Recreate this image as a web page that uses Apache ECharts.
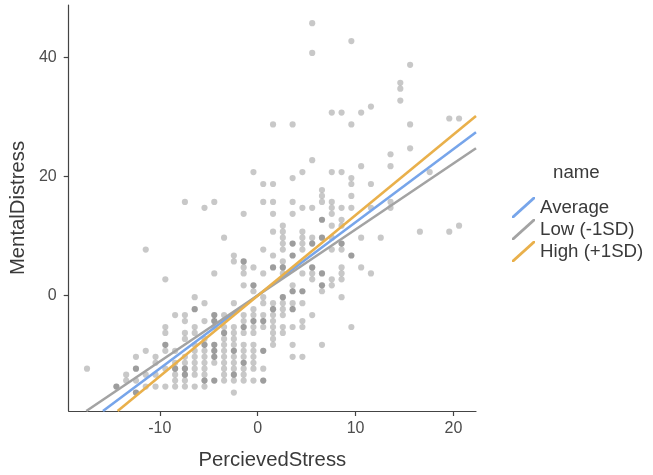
<!DOCTYPE html>
<html>
<head>
<meta charset="utf-8">
<script src="https://cdn.jsdelivr.net/npm/echarts@6/dist/echarts.min.js"></script>
<style>html,body{margin:0;padding:0;background:#fff}#c{width:653px;height:475px}</style>
</head>
<body>
<div id="c"></div>
<script>
// PercievedStress column values (x) and the MentalDistress values (y) observed at each
var stressCols = [-17.43,-14.43,-13.43,-12.43,-11.43,-10.43,-9.43,-8.43,-7.43,-6.43,-5.43,-4.43,-3.43,-2.43,-1.43,-0.43,0.57,1.57,2.57,3.57,4.57,5.57,6.57,7.57,8.57,9.57,10.57,11.57,12.57,13.57,14.57,15.57,16.57,17.57,19.57,20.57];
var distressByCol = [
  [-12.3],
  [-15.3,-15.3],
  [-13.3,-14.3],
  [-10.3,-12.3,-12.3,-14.3,-16.3,-16.3],
  [7.7,-9.3,-13.3,-15.3],
  [-10.3,-11.3,-13.3,-15.3],
  [2.7,-5.3,-6.3,-8.3,-8.3,-9.3,-12.3,-15.3],
  [-3.3,-9.3,-11.3,-12.3,-12.3,-13.3,-14.3,-15.3],
  [15.7,-3.3,-4.3,-6.3,-7.3,-10.3,-11.3,-12.3,-12.3,-13.3,-13.3,-14.3,-15.3],
  [-0.3,-2.3,-2.3,-5.3,-6.3,-8.3,-9.3,-10.3,-11.3,-12.3,-13.3,-15.3],
  [14.7,-1.3,-4.3,-7.3,-8.3,-8.3,-9.3,-10.3,-11.3,-12.3,-13.3,-14.3,-14.3,-15.3],
  [15.7,3.7,-3.3,-3.3,-4.3,-4.3,-5.3,-8.3,-8.3,-9.3,-9.3,-10.3,-10.3,-11.3,-14.3,-14.3],
  [9.7,-3.3,-5.3,-6.3,-6.3,-7.3,-8.3,-9.3,-10.3,-11.3,-12.3,-13.3,-14.3],
  [6.7,5.7,-1.3,-5.3,-6.3,-7.3,-8.3,-9.3,-9.3,-10.3,-11.3,-12.3,-13.3,-13.3,-14.3,-16.3],
  [13.7,5.7,5.7,4.7,3.7,1.7,-3.3,-4.3,-5.3,-5.3,-6.3,-8.3,-9.3,-10.3,-11.3,-11.3,-12.3,-13.3,-14.3],
  [20.7,4.7,1.7,1.7,0.7,-2.3,-3.3,-4.3,-4.3,-5.3,-6.3,-8.3,-9.3,-10.3,-11.3,-12.3,-14.3],
  [18.7,15.7,7.7,3.7,-0.3,-1.3,-3.3,-4.3,-4.3,-5.3,-9.3,-9.3,-12.3,-14.3,-14.3],
  [28.7,18.7,15.7,13.7,10.7,6.7,4.7,4.7,-1.3,-2.3,-2.3,-3.3,-4.3,-5.3,-6.3,-7.3,-8.3],
  [11.7,10.7,9.7,8.7,7.7,5.7,4.7,4.7,3.7,-0.3,-0.3,-1.3,-2.3,-3.3,-5.3,-6.3],
  [28.7,19.7,15.7,13.7,8.7,8.7,6.7,6.7,1.7,0.7,0.7,-1.3,-2.3,-2.3,-5.3,-8.3,-10.3],
  [20.7,14.7,10.7,9.7,8.7,7.7,3.7,0.7,0.7,-1.3,-4.3,-5.3,-10.3],
  [45.7,40.7,22.7,14.7,9.7,8.7,8.7,4.7,4.7,3.7,2.7,-3.3],
  [17.7,16.7,15.7,12.7,12.7,9.7,9.7,3.7,3.7,1.7,1.7,0.7,-8.3],
  [30.7,20.7,15.7,14.7,13.7,11.7,9.7,7.7,2.7,1.7],
  [30.7,20.7,14.7,12.7,11.7,8.7,8.7,7.7,4.7,3.7,2.7,-0.3],
  [42.7,28.7,19.7,18.7,16.7,14.7,6.7,6.7,-5.3],
  [30.7,21.7,9.7,4.7],
  [31.7,18.7,14.7,3.7],
  [9.7],
  [23.7,21.7,15.7,14.7],
  [35.7,34.7,32.7],
  [38.7,28.7,24.7],
  [10.7],
  [20.7],
  [29.7,10.7],
  [29.7,11.7]
];
// Simple-slope lines (endpoints)
var lineNames = ['Average','Low (-1SD)','High (+1SD)'];
var lineColors = ['#77a5ea','#a3a3a3','#e9b04b'];
var avgLine  = [[-15.8,-19.4],[22.3,27.4]];
var lowLine  = [[-17.5,-19.4],[22.3,24.7]];
var highLine = [[-14.3,-19.4],[22.3,30.1]];
var xTicks = [-10,0,10,20];
var yTicks = [0,20,40];

var points = [];
stressCols.forEach(function(x,i){ distressByCol[i].forEach(function(y){ points.push([x,y]); }); });

var font = 'Liberation Sans, Arial, sans-serif';
var icon = 'path://M0,19 L21,0 L23,0 L23,2 L2,21 L0,21 Z';
var chart = echarts.init(document.getElementById('c'));
chart.setOption({
  animation:false,
  backgroundColor:'#fff',
  grid:{left:65,right:177,top:5,bottom:61},
  xAxis:{type:'value',min:-19.3,max:22.3,name:'PercievedStress',nameLocation:'middle',nameGap:39,
    nameTextStyle:{fontSize:20.3,color:'#3a3a3a',fontFamily:font},
    axisLine:{show:true,onZero:false,lineStyle:{color:'#444',width:1.2}},
    axisTick:{show:true,length:5,customValues:xTicks,lineStyle:{color:'#444',width:1.2}},
    axisLabel:{customValues:xTicks,margin:10,fontSize:16,color:'#4d4d4d',fontFamily:font},
    splitLine:{show:false}},
  yAxis:{type:'value',min:-19.4,max:48.75,name:'MentalDistress',nameLocation:'middle',nameGap:40,
    nameTextStyle:{fontSize:20.3,color:'#3a3a3a',fontFamily:font},
    axisLine:{show:true,onZero:false,lineStyle:{color:'#444',width:1.2}},
    axisTick:{show:true,length:5,customValues:yTicks,lineStyle:{color:'#444',width:1.2}},
    axisLabel:{customValues:yTicks,margin:12,fontSize:16,color:'#4d4d4d',fontFamily:font},
    splitLine:{show:false}},
  legend:{orient:'vertical',left:507,top:192,itemWidth:23,itemHeight:21,itemGap:1,
    textStyle:{fontSize:18.7,color:'#3a3a3a',fontFamily:font,padding:[0,0,0,0]},
    data:lineNames.map(function(n){return {name:n,icon:icon};})},
  graphic:[{type:'text',left:553,top:163,style:{text:'name',fontSize:18.7,fill:'#3a3a3a',fontFamily:font}}],
  series:[
    {type:'scatter',data:points,symbolSize:6.2,itemStyle:{color:'rgba(0,0,0,0.27)'},silent:true,z:1},
    {type:'line',name:lineNames[0],data:avgLine,symbol:'none',clip:true,z:3,itemStyle:{color:lineColors[0]},lineStyle:{color:lineColors[0],width:2.6}},
    {type:'line',name:lineNames[1],data:lowLine,symbol:'none',clip:true,z:3,itemStyle:{color:lineColors[1]},lineStyle:{color:lineColors[1],width:2.6}},
    {type:'line',name:lineNames[2],data:highLine,symbol:'none',clip:true,z:3,itemStyle:{color:lineColors[2]},lineStyle:{color:lineColors[2],width:2.6}}
  ]
});
</script>
</body>
</html>
